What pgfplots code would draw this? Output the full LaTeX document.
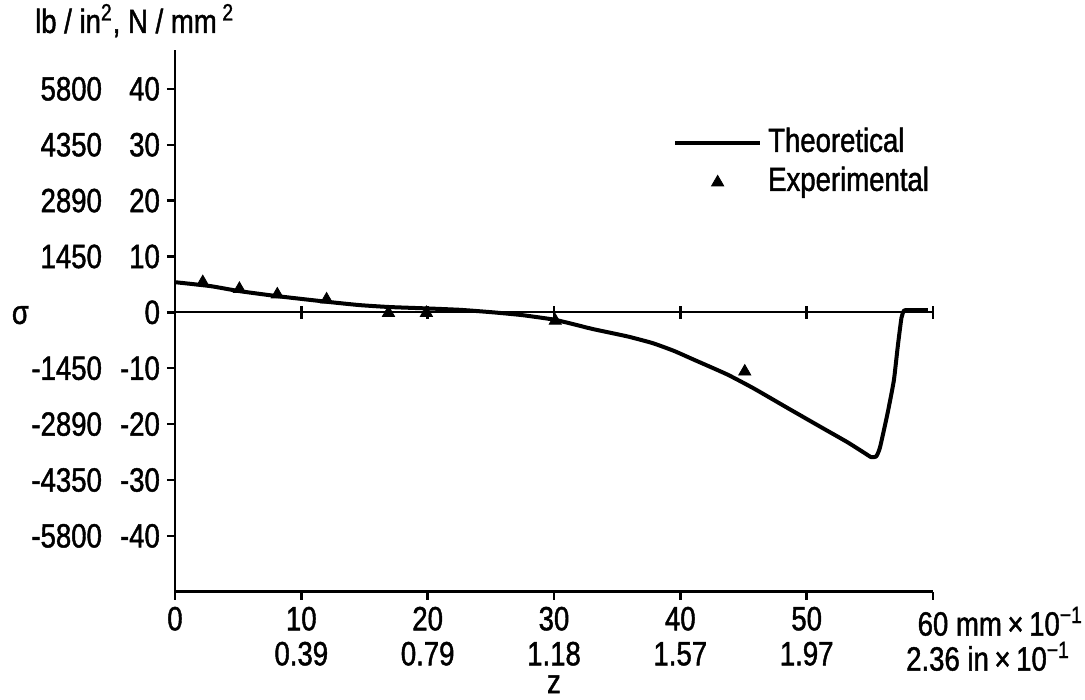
\documentclass[border=0pt]{standalone}
\usepackage{pgfplots}
\pgfplotsset{compat=1.18}
\usepackage{fontspec}
\setmainfont{Liberation Sans}[FakeStretch=0.82, FakeBold=1.3]
\newcommand{\fs}{\fontsize{16.8}{17.5}\selectfont}
\newcommand{\yl}[2]{\makebox[45pt][r]{#1}\hspace{9pt}\makebox[20pt][r]{#2}}
\begin{document}
\begin{tikzpicture}
\begin{axis}[
  scale only axis, width=379pt, height=271pt,
  xmin=0, xmax=60, ymin=-50, ymax=47,
  axis lines=left,
  axis line style={-, line width=1.4pt},
  every outer x axis line/.append style={-},
  every outer y axis line/.append style={-},
  clip=false,
  tick align=outside, major tick length=4pt,
  tick style={line width=1.2pt, black},
  xtick={0,10,20,30,40,50,60},
  xticklabels={0,{10\\0.39},{20\\0.79},{30\\1.18},{40\\1.57},{50\\1.97},{60\rlap{ mm\,×\,10\textsuperscript{−1}}\\2.36\rlap{ in\,×\,10\textsuperscript{−1}}}},
  xticklabel style={align=center, font=\fs},
  ytick={-40,-30,-20,-10,0,10,20,30,40},
  yticklabels={\yl{-5800}{-40},\yl{-4350}{-30},\yl{-2890}{-20},\yl{-1450}{-10},{\makebox[45pt][l]{σ}\hspace{9pt}\makebox[20pt][r]{0}},\yl{1450}{10},\yl{2890}{20},\yl{4350}{30},\yl{5800}{40}},
  yticklabel style={font=\fs},
  xlabel={z}, xlabel style={font=\fs, inner sep=0pt, at={(axis description cs:0.5,0)}, anchor=base, yshift=-50.7pt},
  legend style={draw=none, fill=none, at={(axis cs:39.4,33.8)}, anchor=north west, inner sep=0pt, font=\fs,
    nodes={inner sep=2pt, text height=12pt, text depth=3.5pt}, column sep=1pt},
  legend cell align=left,
]
\path (axis cs:-13.85,55.9) rectangle (axis cs:72.03,-69.2);
\draw[line width=1pt] (axis cs:0,0) -- (axis cs:60,0);
\pgfplotsinvokeforeach{10,20,30,40,50,60}{\draw[line width=1.2pt] (axis cs:#1,-1.1) -- (axis cs:#1,1.1);}
\node[anchor=base west, font=\fs, inner sep=0pt] at (axis cs:-11.1,50.0) {lb / in\textsuperscript{2}, N / mm\,\textsuperscript{2}};
\addplot[black, line width=2pt, line join=round, smooth, tension=0.3,
  legend image code/.code={\draw[line width=2pt] (0pt,0pt) -- (42.5pt,0pt);}]
  coordinates {(0,5.4)(2.8,4.7)(5.1,3.8)(8.1,2.9)(12,1.9)(14.6,1.3)(17,0.95)(20,0.7)(22.6,0.45)(25.2,0)(27.5,-0.5)(30,-1.3)(31.5,-2.1)(33.1,-3.0)(35.8,-4.3)(37.8,-5.5)(39.5,-6.9)(41.0,-8.4)(43.7,-11.1)(45.8,-13.6)(48.4,-17.0)(51.1,-20.5)(53.2,-23.2)(54.6,-25.2)(55.1,-25.9)(55.5,-25.8)(55.8,-24.2)(56.4,-18.1)(56.9,-12.2)(57.2,-6.3)(57.5,-1)(57.7,0.3)(58,0.4)(59.6,0.4)};
\addlegendentry{Theoretical}
\addplot[black, only marks, mark=triangle*, mark size=3.5pt,
  legend image code/.code={\draw[black, only marks, mark=triangle*, mark size=3.5pt] plot coordinates {(21.25pt,0pt)};}]
  coordinates {(2.2,5.4)(5.1,4.2)(8.1,3.2)(12.0,2.3)(16.9,-0.1)(19.9,-0.1)(30.1,-1.5)(45.1,-10.6)};
\addlegendentry{Experimental}
\end{axis}
\end{tikzpicture}
\end{document}
